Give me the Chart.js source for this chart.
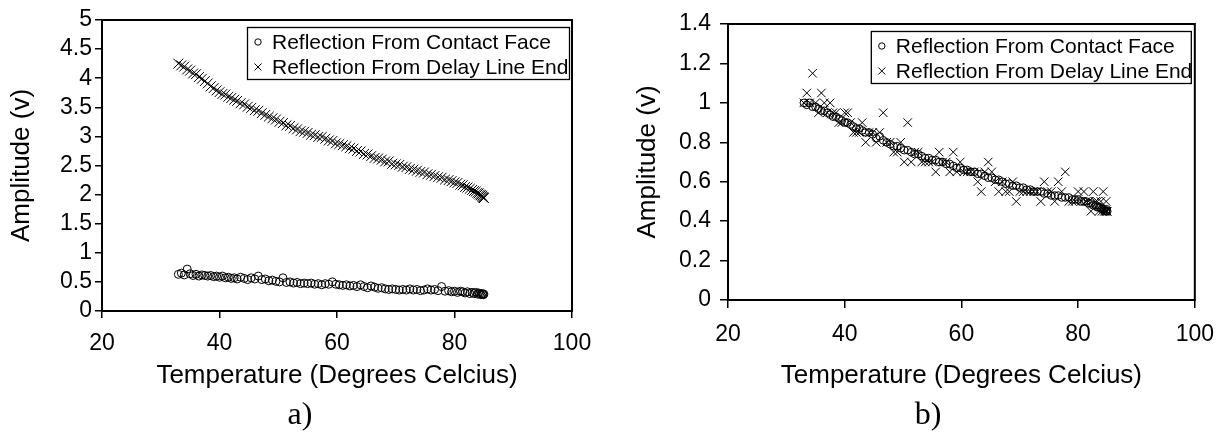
<!DOCTYPE html>
<html>
<head>
<meta charset="utf-8">
<script src="https://cdn.jsdelivr.net/npm/chart.js@4.4.0/dist/chart.umd.min.js"></script>
<style>
  body { margin: 0; background: #fff; width: 1227px; height: 437px; position: relative; overflow: hidden; }
  .panel { position: absolute; top: 0; }
  .cap { position: absolute; top: 396px; font: 32px 'Liberation Serif', serif; color: #000; transform: translateX(-50%); line-height: 34px; }
</style>
</head>
<body>
<canvas id="chartA" class="panel" style="left:0" width="610" height="400"></canvas>
<canvas id="chartB" class="panel" style="left:610px" width="617" height="400"></canvas>
<div class="cap" style="left:300px">a)</div>
<div class="cap" style="left:928px">b)</div>
<script>
// temperatures (deg C) shared by all four series
const temps = [
  33.0, 33.5, 34.0, 34.5, 35.0, 35.5, 36.0, 36.5, 37.0, 37.5,
  38.0, 38.5, 39.0, 39.5, 40.0, 40.5, 41.0, 41.5, 42.0, 42.5,
  43.0, 43.6, 44.2, 44.8, 45.4, 46.0, 46.6, 47.2, 47.8, 48.4,
  49.0, 49.6, 50.2, 50.8, 51.4, 52.0, 52.6, 53.2, 53.8, 54.4,
  55.0, 55.6, 56.2, 56.8, 57.4, 58.0, 58.6, 59.2, 59.8, 60.4,
  61.0, 61.6, 62.2, 62.8, 63.4, 64.0, 64.6, 65.2, 65.8, 66.4,
  67.0, 67.6, 68.2, 68.8, 69.4, 70.0, 70.6, 71.2, 71.8, 72.4,
  73.0, 73.6, 74.2, 74.8, 75.4, 76.0, 76.6, 77.2, 77.8, 78.4,
  79.0, 79.5, 80.0, 80.5, 81.0, 81.4, 81.8, 82.2, 82.6, 83.0,
  83.3, 83.6, 83.9, 84.1, 84.3, 84.5, 84.7, 84.8, 84.9, 85.0
];

// a) raw amplitudes (v)
const contactA = [
  0.63, 0.65, 0.62, 0.72, 0.64, 0.61, 0.63, 0.60, 0.62, 0.61,
  0.60, 0.61, 0.59, 0.60, 0.58, 0.60, 0.57, 0.58, 0.56, 0.57,
  0.55, 0.58, 0.56, 0.54, 0.57, 0.55, 0.60, 0.54, 0.55, 0.52,
  0.53, 0.51, 0.50, 0.57, 0.49, 0.50, 0.48, 0.49, 0.47, 0.48,
  0.47, 0.48, 0.46, 0.47, 0.45, 0.47, 0.46, 0.50, 0.46, 0.45,
  0.44, 0.45, 0.43, 0.44, 0.42, 0.45, 0.42, 0.40, 0.43, 0.41,
  0.39, 0.40, 0.38, 0.37, 0.38, 0.37, 0.36, 0.37, 0.36, 0.38,
  0.36, 0.37, 0.35, 0.36, 0.38, 0.36, 0.37, 0.35, 0.42, 0.34,
  0.35, 0.33, 0.34, 0.32, 0.34, 0.33, 0.31, 0.33, 0.30, 0.32,
  0.30, 0.32, 0.29, 0.31, 0.30, 0.28, 0.30, 0.29, 0.28, 0.29
];
const delayA = [
  4.25, 4.22, 4.20, 4.15, 4.13, 4.08, 4.07, 4.02, 3.99, 3.95,
  3.91, 3.86, 3.83, 3.79, 3.76, 3.73, 3.72, 3.68, 3.66, 3.63,
  3.61, 3.57, 3.55, 3.51, 3.49, 3.45, 3.44, 3.40, 3.37, 3.34,
  3.31, 3.29, 3.25, 3.23, 3.19, 3.18, 3.14, 3.12, 3.09, 3.08,
  3.06, 3.03, 3.02, 2.99, 2.99, 2.96, 2.93, 2.92, 2.88, 2.87,
  2.85, 2.83, 2.80, 2.79, 2.75, 2.74, 2.70, 2.69, 2.66, 2.63,
  2.62, 2.60, 2.57, 2.57, 2.53, 2.52, 2.51, 2.48, 2.47, 2.44,
  2.43, 2.41, 2.39, 2.38, 2.35, 2.34, 2.32, 2.30, 2.29, 2.26,
  2.25, 2.23, 2.21, 2.20, 2.17, 2.16, 2.13, 2.12, 2.10, 2.08,
  2.06, 2.05, 2.03, 2.02, 2.00, 1.99, 1.98, 1.96, 1.95, 1.94
];

// b) normalised amplitudes
const contactB = [
  1.00, 0.99, 1.00, 0.98, 0.98, 0.97, 0.96, 0.96, 0.95, 0.94,
  0.93, 0.93, 0.92, 0.91, 0.90, 0.90, 0.89, 0.88, 0.87, 0.87,
  0.86, 0.85, 0.85, 0.84, 0.82, 0.83, 0.81, 0.80, 0.79, 0.78,
  0.78, 0.77, 0.76, 0.76, 0.75, 0.74, 0.74, 0.73, 0.72, 0.72,
  0.71, 0.71, 0.70, 0.70, 0.69, 0.69, 0.68, 0.67, 0.67, 0.66,
  0.66, 0.65, 0.65, 0.64, 0.64, 0.63, 0.62, 0.62, 0.61, 0.61,
  0.60, 0.59, 0.59, 0.58, 0.58, 0.57, 0.57, 0.56, 0.56, 0.55,
  0.55, 0.55, 0.54, 0.54, 0.53, 0.53, 0.53, 0.52, 0.52, 0.52,
  0.51, 0.51, 0.51, 0.50, 0.50, 0.50, 0.49, 0.49, 0.48, 0.48,
  0.47, 0.47, 0.47, 0.46, 0.46, 0.46, 0.45, 0.45, 0.46, 0.45
];
const delayB = [
  1.00, 1.05, 1.00, 1.15, 1.00, 0.95, 1.05, 1.00, 0.95, 1.00,
  0.95, 0.95, 0.90, 0.90, 0.95, 0.95, 0.90, 0.85, 0.85, 0.85,
  0.90, 0.80, 0.85, 0.85, 0.80, 0.85, 0.95, 0.80, 0.80, 0.75,
  0.75, 0.80, 0.70, 0.90, 0.70, 0.75, 0.75, 0.70, 0.70, 0.70,
  0.70, 0.65, 0.75, 0.70, 0.70, 0.65, 0.75, 0.65, 0.70, 0.65,
  0.65, 0.65, 0.65, 0.60, 0.55, 0.65, 0.70, 0.65, 0.60, 0.55,
  0.60, 0.55, 0.55, 0.60, 0.50, 0.55, 0.55, 0.55, 0.55, 0.55,
  0.55, 0.50, 0.60, 0.55, 0.55, 0.50, 0.60, 0.55, 0.65, 0.50,
  0.50, 0.50, 0.55, 0.50, 0.55, 0.50, 0.50, 0.45, 0.55, 0.50,
  0.50, 0.45, 0.50, 0.45, 0.55, 0.45, 0.45, 0.50, 0.45, 0.45
];

const xTicks = [20, 40, 60, 80, 100];
const yTicksA = [0, 0.5, 1, 1.5, 2, 2.5, 3, 3.5, 4, 4.5, 5];
const yTickLabelsA = ['0', '0.5', '1', '1.5', '2', '2.5', '3', '3.5', '4', '4.5', '5'];
const yTicksB = [0, 0.2, 0.4, 0.6, 0.8, 1, 1.2, 1.4];
const yTickLabelsB = ['0', '0.2', '0.4', '0.6', '0.8', '1', '1.2', '1.4'];
const seriesLabels = ['Reflection From Contact Face', 'Reflection From Delay Line End'];
const xTitle = 'Temperature (Degrees Celcius)';
const yTitle = 'Amplitude (v)';

const FONT = "'Liberation Sans', Arial, sans-serif";

function points(ys) {
  return temps.map((t, i) => ({ x: t, y: ys[i] }));
}

// plot frame + boxed legend inside the plot area
const boxLegend = {
  id: 'boxLegend',
  afterDraw(chart, args, o) {
    const { ctx, chartArea: a } = chart;
    ctx.save();
    ctx.strokeStyle = '#000';
    ctx.lineWidth = 2;
    ctx.strokeRect(a.left, a.top, a.right - a.left, a.bottom - a.top);

    const bx = a.right - o.right - o.width, by = a.top + o.top;
    ctx.fillStyle = '#fff';
    ctx.fillRect(bx, by, o.width, o.height);
    ctx.lineWidth = 1.3;
    ctx.strokeRect(bx + 0.5, by + 0.5, o.width, o.height);

    ctx.font = '21px ' + FONT;
    ctx.textBaseline = 'middle';
    ctx.lineWidth = 1;
    chart.data.datasets.forEach((ds, i) => {
      const cy = by + o.rows[i], cx = bx + 11;
      ctx.beginPath();
      if (ds.pointStyle === 'circle') {
        ctx.arc(cx, cy, 3.2, 0, Math.PI * 2);
      } else {
        ctx.moveTo(cx - 3.5, cy - 3.5); ctx.lineTo(cx + 3.5, cy + 3.5);
        ctx.moveTo(cx + 3.5, cy - 3.5); ctx.lineTo(cx - 3.5, cy + 3.5);
      }
      ctx.stroke();
      ctx.fillStyle = '#000';
      ctx.fillText(ds.label, bx + 25, cy + 1);
    });
    ctx.restore();
  }
};

function buildChart(id, contact, delay, yTicks, yLabels, g) {
  const tickFont = { family: FONT, size: 23 };
  const titleFont = { family: FONT, size: 26 };
  return new Chart(document.getElementById(id), {
    type: 'scatter',
    data: {
      datasets: [
        { label: seriesLabels[0], data: points(contact), pointStyle: 'circle', pointRadius: g.circleR,
          pointBorderWidth: 1, pointBorderColor: '#000', pointBackgroundColor: 'rgba(0,0,0,0)' },
        { label: seriesLabels[1], data: points(delay), pointStyle: 'crossRot', pointRadius: g.crossR,
          pointBorderWidth: 1, pointBorderColor: '#000', pointBackgroundColor: 'rgba(0,0,0,0)' }
      ]
    },
    options: {
      responsive: false,
      animation: false,
      events: [],
      layout: { padding: g.pad },
      plugins: { legend: { display: false }, tooltip: { enabled: false }, boxLegend: g.legend },
      scales: {
        x: {
          type: 'linear', min: xTicks[0], max: xTicks[xTicks.length - 1],
          afterBuildTicks: s => { s.ticks = xTicks.map(v => ({ value: v })); },
          afterFit: s => { s.height = g.xH; },
          ticks: { font: tickFont, color: '#000', padding: g.xTickPad, maxRotation: 0, autoSkip: false,
                   callback: (v, i) => String(xTicks[i]) },
          grid: { drawOnChartArea: false, tickLength: g.tickLen, color: '#000', lineWidth: 1.5 },
          border: { color: '#000', width: 2 },
          title: { display: true, text: xTitle, font: titleFont, color: '#000', padding: { top: 0, bottom: g.xTitlePad } }
        },
        y: {
          type: 'linear', min: yTicks[0], max: yTicks[yTicks.length - 1],
          afterBuildTicks: s => { s.ticks = yTicks.map(v => ({ value: v })); },
          afterFit: s => { s.width = g.yW; },
          ticks: { font: tickFont, color: '#000', padding: g.yTickPad, autoSkip: false,
                   callback: (v, i) => yLabels[i] },
          grid: { drawOnChartArea: false, tickLength: g.tickLen, color: '#000', lineWidth: 1.5 },
          border: { color: '#000', width: 2 },
          title: { display: true, text: yTitle, font: titleFont, color: '#000', padding: { top: g.yTitlePad, bottom: 0 } }
        }
      }
    },
    plugins: [boxLegend]
  });
}

buildChart('chartA', contactA, delayA, yTicksA, yTickLabelsA, {
  pad: { left: 0, top: 20, right: 38, bottom: 0 },
  yW: 102, xH: 89, tickLen: 7, xTickPad: 12, yTickPad: 3,
  xTitlePad: 9, yTitlePad: 6, circleR: 4, crossR: 7,
  legend: { right: 3, top: 7, width: 322, height: 52, rows: [15, 40] }
});

buildChart('chartB', contactB, delayB, yTicksB, yTickLabelsB, {
  pad: { left: 0, top: 24, right: 28, bottom: 0 },
  yW: 118, xH: 100, tickLen: 8, xTickPad: 13, yTickPad: 9,
  xTitlePad: 9, yTitlePad: 22, circleR: 3.8, crossR: 6,
  legend: { right: 4, top: 7, width: 320, height: 52, rows: [15, 40] }
});
</script>
</body>
</html>
